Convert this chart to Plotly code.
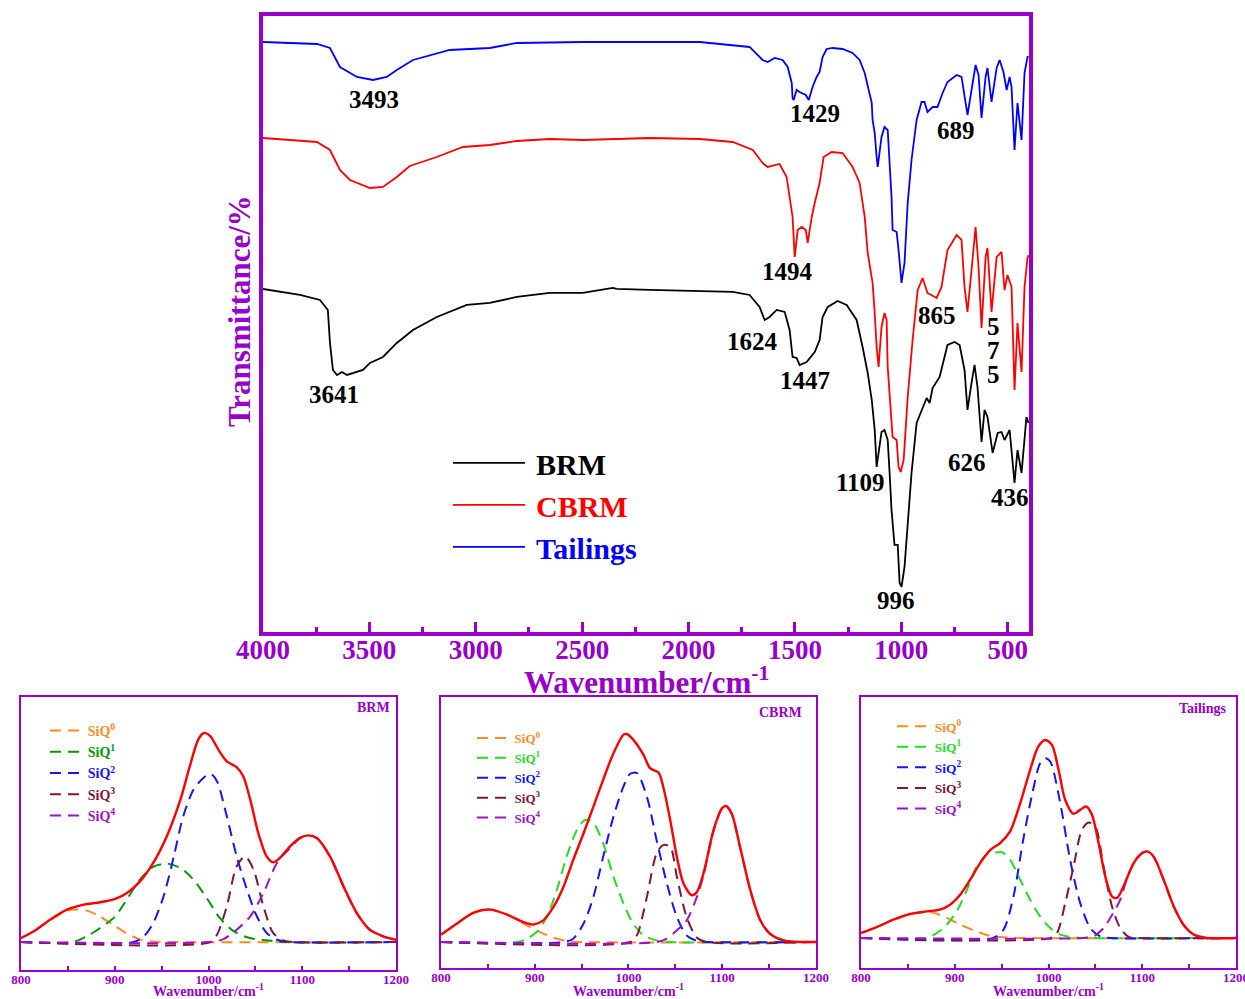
import plotly.graph_objects as go

# ---------------- FTIR spectra (offset transmittance, a.u.) ----------------
wn_brm = [4000, 3826, 3732, 3695, 3685, 3671, 3652, 3629, 3605, 3558, 3530, 3497, 3436, 3371,
          3295, 3183, 3042, 2934, 2807, 2652, 2497, 2356, 2337, 2182, 1947, 1792, 1713, 1666,
          1642, 1619, 1586, 1548, 1525, 1511, 1492, 1478, 1445, 1407, 1384, 1370, 1346, 1299,
          1257, 1210, 1182, 1158, 1139, 1125, 1116, 1093, 1079, 1064, 1055, 1046, 1032, 1017,
          1008, 999, 985, 970, 952, 928, 905, 881, 867, 853, 820, 783, 750, 726, 703, 689, 670,
          656, 642, 623, 609, 595, 571, 547, 529, 515, 491, 468, 454, 435, 412, 402]
t_brm = [343, 337, 332, 322, 289, 262, 257, 260, 257, 260, 262, 269, 275, 289,
         302, 315, 327, 329, 335, 339, 339, 344, 343, 342, 341, 340, 337, 325,
         312, 315, 322, 320, 302, 275, 274, 267, 270, 280, 292, 315, 325, 331,
         327, 312, 285, 259, 232, 202, 165, 200, 202, 192, 159, 122, 87, 87,
         49, 45, 65, 112, 159, 209, 222, 234, 229, 244, 255, 287, 290, 287, 262, 222, 249,
         267, 245, 190, 222, 215, 179, 199, 200, 192, 202, 149, 182, 159, 215, 209]

wn_cbrm = [4000, 3746, 3685, 3638, 3591, 3497, 3436, 3371, 3310, 3183, 3061, 2934, 2807, 2652,
           2497, 2182, 1947, 1792, 1698, 1652, 1628, 1572, 1539, 1525, 1511, 1501, 1487, 1468,
           1449, 1440, 1421, 1407, 1384, 1365, 1327, 1276, 1229, 1196, 1172, 1158, 1135, 1125,
           1116, 1107, 1093, 1079, 1069, 1064, 1050, 1041, 1022, 1013, 1003, 989, 970, 947, 923,
           900, 877, 834, 811, 783, 740, 717, 703, 689, 670, 651, 637, 623, 604, 595, 576, 552,
           529, 515, 501, 482, 468, 454, 435, 421, 407, 402]
t_cbrm = [494, 490, 482, 462, 452, 444, 445, 455, 466, 475, 485, 487, 491, 493,
          492, 494, 493, 490, 482, 469, 465, 468, 455, 435, 415, 375, 402, 405,
          402, 389, 415, 429, 449, 475, 480, 479, 465, 449, 415, 379, 349, 319,
          285, 265, 305, 319, 312, 265, 225, 195, 192, 165, 160, 172, 235, 292, 342,
          354, 339, 334, 345, 382, 397, 392, 345, 320, 362, 405, 365, 304, 375, 384, 320, 375,
          380, 342, 357, 345, 242, 309, 260, 345, 374, 377]

wn_tail = [4000, 3746, 3685, 3638, 3558, 3483, 3418, 3371, 3295, 3122, 2934, 2807, 2497, 2182,
           1947, 1713, 1652, 1628, 1595, 1558, 1534, 1515, 1511, 1506, 1492, 1478, 1449, 1435,
           1417, 1398, 1384, 1370, 1351, 1323, 1276, 1229, 1196, 1172, 1158, 1139, 1135, 1125,
           1116, 1111, 1093, 1079, 1064, 1055, 1046, 1041, 1022, 1013, 999, 985, 970, 952, 928,
           905, 891, 877, 853, 830, 806, 783, 740, 717, 703, 689, 670, 651, 637, 623, 604, 595,
           576, 552, 538, 520, 505, 491, 482, 468, 454, 435, 421, 407, 402]
t_tail = [590, 588, 584, 565, 555, 552, 555, 562, 572, 582, 584, 589, 590, 590,
          590, 585, 572, 570, 574, 572, 565, 549, 534, 532, 542, 540, 537, 532,
          545, 555, 560, 575, 583, 584, 583, 579, 572, 559, 545, 529, 512, 499,
          475, 465, 495, 505, 502, 472, 435, 402, 400, 382, 349, 369, 429, 472, 512,
          530, 530, 520, 525, 525, 539, 550, 557, 555, 535, 517, 542, 567, 557, 514, 555, 564,
          530, 564, 572, 560, 542, 555, 545, 482, 529, 492, 559, 575, 575]

# band assignments: (label, wavenumber, transmittance)
peak_labels = [("3493", 3479, 532), ("3641", 3667, 237), ("1429", 1407, 518),
               ("689", 745, 501), ("1494", 1534, 360), ("865", 830, 316),
               ("5", 566, 305), ("7", 566, 281), ("5", 566, 257),
               ("1624", 1698, 290), ("1447", 1454, 251), ("1109", 1191, 149),
               ("626", 693, 169), ("436", 491, 134), ("996", 1027, 31)]

# ---------------- Si-O deconvolution (800-1200 cm-1, normalised) ----------------
q_names = ["SiQ<sup>0</sup>", "SiQ<sup>1</sup>", "SiQ<sup>2</sup>", "SiQ<sup>3</sup>", "SiQ<sup>4</sup>"]

brm_fit_x = [800, 813.5, 831, 849, 867, 884.5, 900.5, 913, 927, 941, 955.5, 970, 980, 989, 995, 1002,
             1010.5, 1019.5, 1030, 1037, 1044.5, 1053, 1062, 1069, 1076, 1087, 1097.5, 1106.5,
             1115.5, 1129.5, 1144, 1158, 1172, 1186.5, 1200]
brm_fit_y = [0.019, 0.051, 0.107, 0.155, 0.179, 0.190, 0.206, 0.234, 0.290, 0.378, 0.506, 0.681,
             0.840, 0.968, 1.0, 0.984, 0.920, 0.864, 0.837, 0.793, 0.681, 0.522, 0.410, 0.381,
             0.402, 0.458, 0.498, 0.510, 0.498, 0.410, 0.266, 0.139, 0.059, 0.027, 0.011]
brm_q_x = [
    [800, 813, 831, 849, 860, 870, 884, 898, 912, 926, 940, 960, 1200],
    [800, 856, 870, 884.5, 900.5, 913, 927, 941, 955.5, 970, 984, 998, 1012, 1027, 1044, 1062, 1080, 1200],
    [800, 920, 931, 941, 952, 963, 973, 984, 994.5, 1002, 1009, 1019.5, 1030, 1041, 1051.5, 1062, 1073, 1087, 1200],
    [800, 1002, 1009, 1019.5, 1030, 1039, 1048, 1058.5, 1069, 1080, 1090.5, 1200],
    [800, 1002, 1016, 1030, 1044.5, 1058.5, 1073, 1087, 1097.5, 1106.5, 1115.5, 1129.5, 1144, 1158, 1172, 1186.5, 1200],
]
brm_q_y = [
    [0.019, 0.05, 0.105, 0.150, 0.155, 0.150, 0.123, 0.083, 0.043, 0.014, 0.003, 0, 0],
    [0, 0, 0.027, 0.067, 0.123, 0.205, 0.300, 0.360, 0.375, 0.354, 0.298, 0.211, 0.115, 0.051, 0.019, 0.008, 0, 0],
    [0, 0, 0.027, 0.091, 0.218, 0.410, 0.601, 0.729, 0.785, 0.805, 0.769, 0.601, 0.410, 0.250, 0.123, 0.043, 0.011, 0, 0],
    [0, 0, 0.035, 0.171, 0.362, 0.410, 0.346, 0.171, 0.043, 0.008, 0, 0],
    [0, 0, 0.014, 0.059, 0.123, 0.234, 0.378, 0.450, 0.496, 0.509, 0.497, 0.409, 0.265, 0.138, 0.058, 0.026, 0.010],
]

cbrm_fit_x = [800, 816.7, 834.5, 852.3, 870, 888, 898.6, 909, 920, 930.6, 941, 952, 962.6, 973, 984,
              994.7, 998, 1005, 1016, 1023, 1032, 1037, 1044.5, 1051.6, 1058.7, 1067.6, 1073, 1080,
              1090.8, 1099.7, 1104, 1110, 1119, 1130, 1140.6, 1151, 1165.5, 1200]
cbrm_fit_y = [0.035, 0.088, 0.140, 0.156, 0.133, 0.096, 0.084, 0.104, 0.169, 0.265, 0.394, 0.522,
              0.651, 0.780, 0.908, 0.997, 1.0, 0.973, 0.900, 0.836, 0.815, 0.748, 0.587, 0.410,
              0.281, 0.225, 0.241, 0.330, 0.539, 0.643, 0.654, 0.619, 0.458, 0.249, 0.105, 0.040,
              0.008, 0]
cbrm_q_x = [
    [800, 816.7, 834.5, 852.3, 870, 877, 891.5, 905.7, 920, 934, 952, 1200],
    [800, 881, 891.5, 902, 913, 923.5, 934, 945, 954, 962.6, 973, 984, 994.7, 1005, 1016, 1030, 1044.5, 1200],
    [800, 930.6, 941, 952, 962.6, 973, 984, 994.7, 1001.8, 1009, 1019.6, 1030, 1041, 1051.6, 1062, 1073, 1083.6, 1200],
    [800, 1001.8, 1009, 1019.6, 1030, 1037, 1044.5, 1051.6, 1062, 1073, 1083.6, 1200],
    [800, 1030, 1041, 1051.6, 1062, 1073, 1080, 1090.8, 1099.7, 1104, 1110, 1119, 1130, 1140.6, 1151, 1165.5, 1200],
]
cbrm_q_y = [
    [0.035, 0.088, 0.140, 0.156, 0.133, 0.117, 0.080, 0.048, 0.021, 0.005, 0, 0],
    [0, 0, 0.016, 0.048, 0.121, 0.249, 0.410, 0.539, 0.587, 0.571, 0.474, 0.314, 0.185, 0.088, 0.032, 0.008, 0, 0],
    [0, 0, 0.016, 0.088, 0.217, 0.410, 0.603, 0.748, 0.809, 0.812, 0.699, 0.490, 0.281, 0.121, 0.032, 0.005, 0, 0],
    [0, 0, 0.032, 0.217, 0.426, 0.466, 0.458, 0.314, 0.121, 0.021, 0, 0],
    [0, 0, 0.016, 0.056, 0.104, 0.217, 0.320, 0.535, 0.640, 0.652, 0.617, 0.456, 0.248, 0.104, 0.040, 0.008, 0],
]

tail_fit_x = [800, 816.7, 834.5, 852.3, 870, 884, 895, 905.7, 916.4, 927, 938, 948.4, 959, 969.8,
              980.4, 989, 996.5, 1003.6, 1010.7, 1017.8, 1026.7, 1033.8, 1040, 1046.3, 1053.4,
              1060.5, 1067.6, 1073, 1080, 1090.8, 1099.7, 1105, 1112, 1122.8, 1133.5, 1144, 1155,
              1169, 1200]
tail_fit_y = [0.025, 0.055, 0.092, 0.121, 0.134, 0.143, 0.168, 0.218, 0.294, 0.378, 0.445, 0.479,
              0.538, 0.681, 0.849, 0.966, 1.0, 0.975, 0.849, 0.697, 0.627, 0.647, 0.664, 0.622,
              0.479, 0.311, 0.210, 0.202, 0.261, 0.378, 0.429, 0.437, 0.412, 0.294, 0.160, 0.067,
              0.017, 0, 0]
tail_q_x = [
    [800, 816.7, 834.5, 852.3, 870, 877, 891.5, 905.7, 920, 934, 948, 970, 1200],
    [800, 870, 880.8, 891.5, 902, 913, 923.5, 934, 945, 950, 959, 969.8, 980.4, 991, 1001.8, 1012.5, 1026.7, 1037, 1200],
    [800, 941, 952, 962.6, 973, 982, 991, 996.5, 1001.8, 1012.5, 1023, 1033.8, 1044.5, 1055, 1066, 1200],
    [800, 1001.8, 1009, 1017.8, 1026.7, 1035.6, 1042.7, 1049.8, 1058.7, 1067.6, 1076.5, 1085.4, 1094, 1200],
    [800, 1037, 1048, 1058.7, 1069, 1076.5, 1083.6, 1090.8, 1099.7, 1105, 1112, 1122.8, 1133.5, 1144, 1155, 1169, 1200],
]
tail_q_y = [
    [0.025, 0.055, 0.092, 0.121, 0.130, 0.128, 0.101, 0.067, 0.039, 0.015, 0.005, 0, 0],
    [0, 0, 0.025, 0.067, 0.134, 0.244, 0.361, 0.420, 0.432, 0.434, 0.395, 0.294, 0.193, 0.109, 0.050, 0.017, 0.003, 0, 0],
    [0, 0, 0.042, 0.210, 0.496, 0.714, 0.882, 0.908, 0.891, 0.681, 0.395, 0.176, 0.050, 0.008, 0, 0],
    [0, 0, 0.025, 0.176, 0.361, 0.546, 0.583, 0.563, 0.361, 0.160, 0.050, 0.005, 0, 0],
    [0, 0, 0.008, 0.050, 0.126, 0.193, 0.300, 0.375, 0.427, 0.435, 0.410, 0.292, 0.158, 0.066, 0.016, 0, 0],
]

# ---------------- styling ----------------
PURPLE = "#9900CC"
SERIF = "Liberation Serif"
GAP = "\u2009"  # thin space between legend symbol and label
q_colors_dark = ["#FF8A1E", "#009A00", "#1414FF", "#80143C", "#9B10D0"]
q_colors_light = ["#FF8A1E", "#22DD22", "#1414FF", "#80143C", "#9B10D0"]

fig = go.Figure()

for name, color, wx, ty in [("BRM", "#000000", wn_brm, t_brm),
                            ("CBRM", "#FF0000", wn_cbrm, t_cbrm),
                            ("Tailings", "#0000FF", wn_tail, t_tail)]:
    fig.add_trace(go.Scatter(
        x=wx, y=ty, mode="lines", line=dict(color=color, width=1.8),
        name=f'{GAP}<span style="color:{color}">{name}</span>', legend="legend",
        xaxis="x", yaxis="y"))

panels = [
    ("x2", "y2", "legend2", brm_q_x, brm_q_y, brm_fit_x, brm_fit_y, q_colors_dark),
    ("x3", "y3", "legend3", cbrm_q_x, cbrm_q_y, cbrm_fit_x, cbrm_fit_y, q_colors_light),
    ("x4", "y4", "legend4", tail_q_x, tail_q_y, tail_fit_x, tail_fit_y, q_colors_light),
]
for xa, ya, lg, qx, qy, fx, fy, cols in panels:
    for i in range(5):
        fig.add_trace(go.Scatter(
            x=qx[i], y=qy[i], mode="lines", xaxis=xa, yaxis=ya, legend=lg,
            line=dict(color=cols[i], width=2, dash="11px,7px", shape="spline", smoothing=0.8),
            name=f'{GAP}<span style="color:{cols[i]}">{q_names[i]}</span>'))
    fig.add_trace(go.Scatter(
        x=fx, y=fy, mode="lines", xaxis=xa, yaxis=ya, showlegend=False,
        line=dict(color="#FF0000", width=2.4, shape="spline", smoothing=0.8)))

annotations = []
for txt, x, y in peak_labels:
    annotations.append(dict(text=txt, x=x, y=y, xref="x", yref="y", showarrow=False,
                            font=dict(family=SERIF, size=25, color="black", weight="bold")))
annotations.append(dict(text="Transmittance/%", x=0.1928, y=0.6887, xref="paper", yref="paper",
                        textangle=-90, showarrow=False, xanchor="center", yanchor="middle",
                        font=dict(family=SERIF, size=31, color=PURPLE, weight="bold")))
annotations.append(dict(text="Wavenumber/cm<sup>-1</sup>", x=0.5189, y=0.3193,
                        xref="paper", yref="paper", showarrow=False,
                        xanchor="center", yanchor="middle",
                        font=dict(family=SERIF, size=31, color=PURPLE, weight="bold")))
for txt, x, y in [("BRM", 0.3149, 0.2913), ("CBRM", 0.6458, 0.2863), ("Tailings", 0.9871, 0.2903)]:
    annotations.append(dict(text=txt, x=x, y=y, xref="paper", yref="paper", showarrow=False,
                            xanchor="right", yanchor="middle",
                            font=dict(family=SERIF, size=14, color=PURPLE, weight="bold")))


def small_x(domain, anchor):
    return dict(domain=domain, anchor=anchor, range=[800, 1200], dtick=100, tick0=0,
                automargin=False, ticklabeloverflow="allow", ticklabelstandoff=-4,
                ticks="inside", ticklen=4, tickwidth=1.5, tickcolor=PURPLE,
                minor=dict(ticks="inside", dtick=50, ticklen=4, tickwidth=1.5, tickcolor=PURPLE),
                showline=True, linewidth=2, linecolor=PURPLE, mirror=True,
                showgrid=False, zeroline=False,
                tickfont=dict(family=SERIF, size=13, color=PURPLE, weight="bold"),
                title=dict(text="Wavenumber/cm<sup>-1</sup>", standoff=6,
                           font=dict(family=SERIF, size=14, color=PURPLE, weight="bold")))


def small_y(domain, anchor, rng):
    return dict(domain=domain, anchor=anchor, range=rng, showticklabels=False, ticks="",
                automargin=False,
                showline=True, linewidth=2, linecolor=PURPLE, mirror=True,
                showgrid=False, zeroline=False)


def small_legend(x, y, size):
    return dict(x=x, y=y, xanchor="left", yanchor="top", bgcolor="rgba(0,0,0,0)",
                tracegroupgap=0, itemclick=False,
                font=dict(family=SERIF, size=size, color="black", weight="bold"))


fig.update_layout(
    width=1245, height=999, margin=dict(l=0, r=0, t=0, b=0, autoexpand=False),
    paper_bgcolor="white", plot_bgcolor="white",
    xaxis=dict(domain=[0.2112, 0.8265], anchor="y", range=[4000, 400], dtick=500, tick0=0,
               automargin=False,
               ticks="inside", ticklen=10, tickwidth=3, tickcolor=PURPLE,
               minor=dict(ticks="inside", dtick=250, ticklen=5, tickwidth=3, tickcolor=PURPLE),
               showline=True, linewidth=4, linecolor=PURPLE, mirror=True,
               showgrid=False, zeroline=False, ticklabelstandoff=-9,
               tickfont=dict(family=SERIF, size=27, color=PURPLE, weight="bold")),
    yaxis=dict(domain=[0.3674, 0.984], anchor="x", range=[0, 616], showticklabels=False,
               automargin=False,
               ticks="", showline=True, linewidth=4, linecolor=PURPLE, mirror=True,
               showgrid=False, zeroline=False),
    xaxis2=small_x([0.0169, 0.3181], "y2"),
    yaxis2=small_y([0.029, 0.3023], "x2", [-0.134, 1.172]),
    xaxis3=small_x([0.3542, 0.6554], "y3"),
    yaxis3=small_y([0.031, 0.3023], "x3", [-0.125, 1.178]),
    xaxis4=small_x([0.6916, 0.9928], "y4"),
    yaxis4=small_y([0.031, 0.3023], "x4", [-0.152, 1.217]),
    legend=dict(x=0.3598, y=0.5626, xanchor="left", yanchor="top", bgcolor="rgba(0,0,0,0)",
                itemwidth=72, tracegroupgap=0,
                font=dict(family=SERIF, size=30, color="black", weight="bold")),
    legend2=small_legend(0.0361, 0.2843, 14),
    legend3=small_legend(0.3791, 0.2763, 13),
    legend4=small_legend(0.7165, 0.2883, 13.5),
    annotations=annotations,
    showlegend=True,
)

fig.write_html("out.html")
